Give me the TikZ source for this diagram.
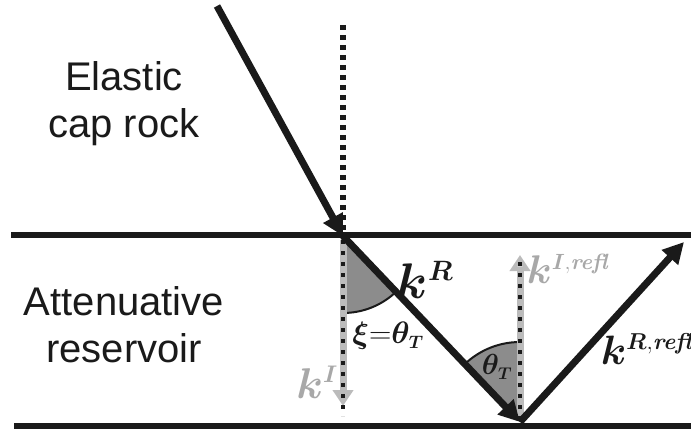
\RequirePackage{fix-cm}
\documentclass[tikz,border=0pt]{standalone}
\usepackage{amsmath}
\usepackage{bm}
\usepackage{fontspec}
\newfontfamily\labelfont{Liberation Sans}
\usetikzlibrary{arrows.meta}
\DeclareMathSizes{50}{50}{28}{21}
\DeclareMathSizes{43}{43}{24}{18}
\DeclareMathSizes{40}{40}{22}{17}
\DeclareMathSizes{41}{41}{23}{17}
\DeclareMathSizes{31}{31}{18}{14}
\DeclareMathSizes{29}{29}{17}{13}
\definecolor{ink}{HTML}{1A1A1A}
\definecolor{beam}{HTML}{BBBBBB}
\definecolor{wedgegray}{HTML}{8C8C8C}
\definecolor{faint}{HTML}{A8A8A8}
\begin{document}
\begin{tikzpicture}[x=1pt,y=-1pt,
  layer/.style={line width=6pt, draw=ink},
  ray/.style={line width=7pt, draw=ink, -{Triangle[length=21pt,width=21pt]}},
  normalline/.style={line width=6pt, draw=ink, dash pattern=on 5pt off 5pt},
  ghost/.style={line width=7pt, draw=beam, -{Triangle[length=16pt,width=20pt,fill=beam!70!white]}},
  dots/.style={line width=3.5pt, draw=ink, dash pattern=on 4pt off 7pt},
  region/.style={font=\labelfont\fontsize{40}{47}\selectfont, inner sep=0pt, anchor=base, text=ink},
  vec/.style={inner sep=0pt, text=ink},
]
\useasboundingbox (0,0) rectangle (691,429);

% key points
\coordinate (inc) at (217,6);
\coordinate (P) at (343,236);
\coordinate (Q) at (520,422);
\coordinate (refl) at (684,242);
\coordinate (ntop) at (343,25);
\coordinate (nbot) at (343,232);
\coordinate (kIs) at (343,240);
\coordinate (kIe) at (343,406);
\coordinate (kIdot) at (343,416);
\coordinate (kRs) at (520,420);
\coordinate (kRe) at (520,255);
\coordinate (kRdot) at (520,262);

% angle wedges
\fill[wedgegray] (P) -- ++(46.4:77) arc[start angle=46.4,end angle=90,radius=77] -- cycle;
\draw[ink,line width=2pt] (P) ++(46.4:77) arc[start angle=46.4,end angle=90,radius=77];
\fill[wedgegray] (Q) -- ++(-133.6:80) arc[start angle=-133.6,end angle=-90,radius=80] -- cycle;
\draw[ink,line width=2pt] (Q) ++(-133.6:80) arc[start angle=-133.6,end angle=-90,radius=80];

% gray vertical arrows with dotted normals
\draw[ghost] (kIs) -- (kIe);
\draw[dots] (kIs) -- (kIdot);
\draw[ghost] (kRs) -- (kRe);
\draw[dots] (kRs) -- (kRdot);

% normal above interface
\draw[normalline] (ntop) -- (nbot);

% interfaces
\coordinate (t1) at (11,235);
\coordinate (t2) at (691,235);
\coordinate (b1) at (14,426);
\coordinate (b2) at (691,426);
\draw[layer] (t1) -- (t2);
\draw[layer] (b1) -- (b2);

% rays
\draw[ray] (inc) -- (P);
\draw[ray] (P) -- (Q);
\draw[ray] (Q) -- (refl);

% region labels
\node[region] (capA) at (124,90) {Elastic};
\node[region] (capB) at (124,137) {cap rock};
\node[region] (resA) at (124,315) {Attenuative};
\node[region] (resB) at (124,362) {reservoir};

% vector labels
\node[vec, font=\fontsize{50}{56}\selectfont] (kR) at (425,280) {$\bm{k}^{\bm{R}}$};
\node[vec, font=\fontsize{31}{35}\selectfont] (xi) at (388,336) {$\bm{\xi}{=}\bm{\theta}_{\bm{T}}$};
\node[vec, font=\fontsize{29}{33}\selectfont] (th) at (497,367) {$\bm{\theta}_{\bm{T}}$};
\node[vec, text=faint, font=\fontsize{43}{47}\selectfont] (kI) at (317,382) {$\bm{k}^{\bm{I}}$};
\node[vec, text=faint, font=\fontsize{40}{44}\selectfont] (kIr) at (568,269) {$\bm{k}^{\bm{I},\textbf{\textit{refl}}}$};
\node[vec, font=\fontsize{41}{46}\selectfont] (kRr) at (647,349) {$\bm{k}^{\bm{R},\textbf{\textit{refl}}}$};
\end{tikzpicture}
\end{document}
